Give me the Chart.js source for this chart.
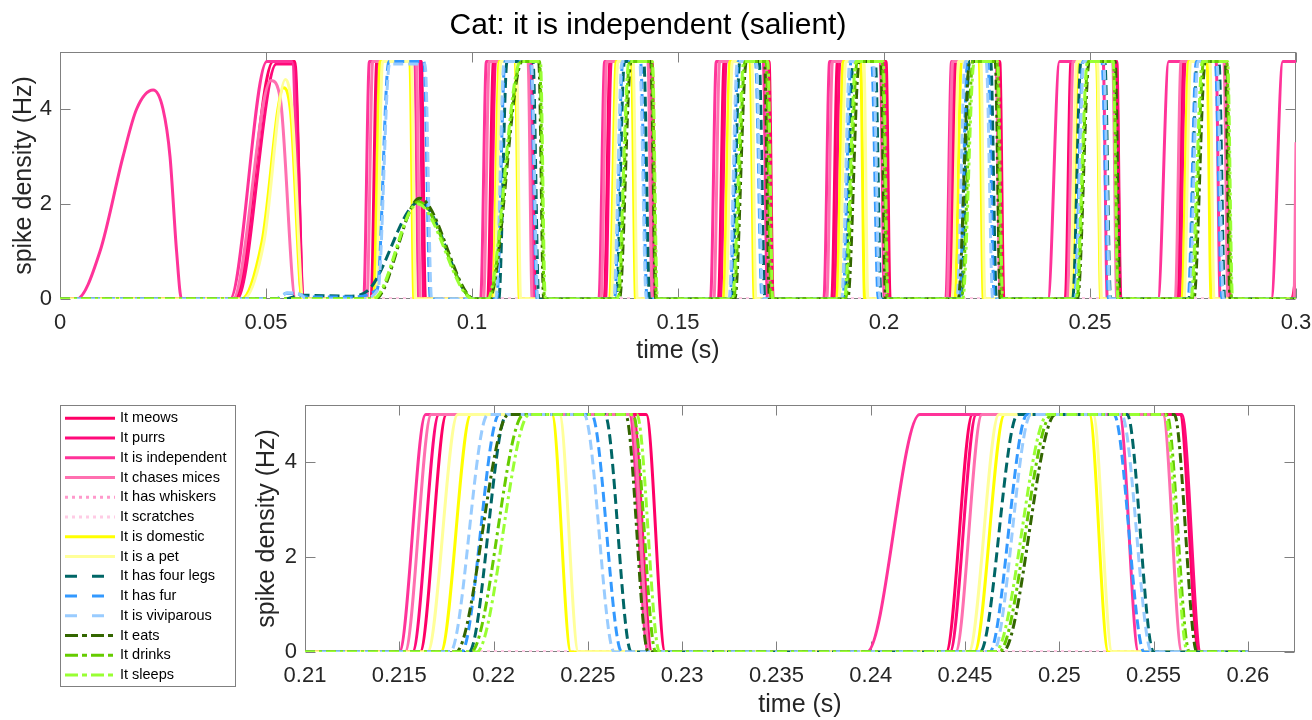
<!DOCTYPE html>
<html><head><meta charset="utf-8">
<script src="https://cdn.jsdelivr.net/npm/chart.js@4.4.1/dist/chart.umd.min.js"></script>
<style>
html,body{margin:0;padding:0;background:#fff;width:1312px;height:720px;overflow:hidden;}
#topChart{position:absolute;left:0;top:0;}
#zoomChart{position:absolute;left:0;top:380px;}
</style></head><body>
<canvas id="topChart" width="1312" height="370"></canvas>
<canvas id="zoomChart" width="1312" height="340"></canvas>
<script>
// ---------- DATA ----------
const chartTitle = 'Cat: it is independent (salient)';
const xTitle = 'time (s)';
const yTitle = 'spike density (Hz)';

const topXTicks = [0, 0.05, 0.1, 0.15, 0.2, 0.25, 0.3];
const topXLabels = ['0', '0.05', '0.1', '0.15', '0.2', '0.25', '0.3'];
const zoomXTicks = [0.21, 0.215, 0.22, 0.225, 0.23, 0.235, 0.24, 0.245, 0.25, 0.255, 0.26];
const zoomXLabels = ['0.21', '0.215', '0.22', '0.225', '0.23', '0.235', '0.24', '0.245', '0.25', '0.255', '0.26'];
const yTicks = [0, 2, 4];
const yLabels = ['0', '2', '4'];

const seriesLabels = ['It meows', 'It purrs', 'It is independent', 'It chases mices', 'It has whiskers',
  'It scratches', 'It is domestic', 'It is a pet', 'It has four legs', 'It has fur', 'It is viviparous',
  'It eats', 'It drinks', 'It sleeps'];

// [time (s), spike density (Hz)]
const itMeows = [
  [0,0],
  [0.0425,0],[0.0517,5],[0.0570,5],[0.0590,0],
  [0.0755,0],[0.0769,5],[0.0877,5],[0.0887,0],
  [0.1038,0],[0.1052,5],[0.1144,5],[0.1154,0],
  [0.1321,0],[0.1335,5],[0.1437,5],[0.1447,0],
  [0.1598,0],[0.1612,5],[0.1721,5],[0.1731,0],
  [0.1873,0],[0.1887,5],[0.2005,5],[0.2015,0],
  [0.2161,0],[0.2175,5],[0.2281,5],[0.2291,0],
  [0.2440,0],[0.2454,5],[0.2564,5],[0.2574,0],
  [0.2713,0],[0.2727,5],[0.2831,5],[0.2841,0],
  [0.2990,0],[0.3000,0.5]
];
const itPurrs = [
  [0,0],
  [0.0430,0],[0.0525,4.95],[0.0568,4.95],[0.0592,0],
  [0.0761,0],[0.0775,5],[0.0873,5],[0.0883,0],
  [0.1043,0],[0.1057,5],[0.1142,5],[0.1152,0],
  [0.1324,0],[0.1338,5],[0.1435,5],[0.1445,0],
  [0.1603,0],[0.1617,5],[0.1717,5],[0.1727,0],
  [0.1879,0],[0.1893,5],[0.2001,5],[0.2011,0],
  [0.2157,0],[0.2171,5],[0.2274,5],[0.2284,0],
  [0.2442,0],[0.2456,5],[0.2565,5],[0.2575,0],
  [0.2717,0],[0.2731,5],[0.2829,5],[0.2839,0],
  [0.3000,0]
];
const itIsIndependent = [
  [0,0],[0.0040,0],[0.0097,1.0],[0.0153,3.0],[0.0186,4.0],[0.0226,4.4],[0.0250,4.0],[0.0267,3.0],[0.0283,1.0],[0.0295,0],
  [0.0413,0],[0.0502,5],[0.0563,5],[0.0587,0],
  [0.0737,0],[0.0751,5],[0.0861,5],[0.0871,0],
  [0.1021,0],[0.1035,5],[0.1140,5],[0.1150,0],
  [0.1308,0],[0.1322,5],[0.1431,5],[0.1441,0],
  [0.1579,0],[0.1593,5],[0.1707,5],[0.1717,0],
  [0.1854,0],[0.1868,5],[0.1991,5],[0.2001,0],
  [0.2150,0],[0.2164,5],[0.2272,5],[0.2282,0],
  [0.2398,0],[0.2426,5],[0.2532,5],[0.2542,0],
  [0.2665,0],[0.2691,5],[0.2806,5],[0.2816,0],
  [0.2940,0],[0.2968,5],[0.3000,5]
];
const itChasesMices = [
  [0,0],
  [0.0420,0],[0.0512,4.6],[0.0535,4.2],[0.0572,0],
  [0.0745,0],[0.0759,5],[0.0865,5],[0.0875,0],
  [0.1028,0],[0.1042,5],[0.1136,5],[0.1146,0],
  [0.1313,0],[0.1327,5],[0.1427,5],[0.1437,0],
  [0.1587,0],[0.1601,5],[0.1713,5],[0.1723,0],
  [0.1861,0],[0.1875,5],[0.1994,5],[0.2004,0],
  [0.2153,0],[0.2167,5],[0.2273,5],[0.2283,0],
  [0.2445,0],[0.2459,5],[0.2555,5],[0.2565,0],
  [0.2707,0],[0.2721,5],[0.2825,5],[0.2835,0],
  [0.2995,0],[0.3000,3.3]
];
const itHasWhiskers = [[0,0],[0.3000,0]];
const itScratches = [[0,0],[0.3000,0]];
const itIsDomestic = [
  [0,0],
  [0.0440,0],[0.0490,1.2],[0.0543,4.45],[0.0560,3.9],[0.0588,0],
  [0.0761,0],[0.0777,5],[0.0849,5],[0.0859,0],
  [0.1050,0],[0.1066,5],[0.1105,5],[0.1115,0],
  [0.1334,0],[0.1350,5],[0.1387,5],[0.1397,0],
  [0.1610,0],[0.1626,5],[0.1675,5],[0.1685,0],
  [0.1885,0],[0.1901,5],[0.1943,5],[0.1953,0],
  [0.2172,0],[0.2188,5],[0.2231,5],[0.2241,0],
  [0.2455,0],[0.2471,5],[0.2516,5],[0.2526,0],
  [0.2723,0],[0.2739,5],[0.2784,5],[0.2794,0],
  [0.3000,0]
];
const itIsAPet = [
  [0,0],
  [0.0445,0],[0.0495,1.2],[0.0547,4.62],[0.0563,4.0],[0.0591,0],
  [0.0767,0],[0.0783,5],[0.0853,5],[0.0863,0],
  [0.1054,0],[0.1070,5],[0.1108,5],[0.1118,0],
  [0.1338,0],[0.1354,5],[0.1391,5],[0.1401,0],
  [0.1616,0],[0.1632,5],[0.1679,5],[0.1689,0],
  [0.1891,0],[0.1907,5],[0.1951,5],[0.1961,0],
  [0.2165,0],[0.2181,5],[0.2235,5],[0.2245,0],
  [0.2452,0],[0.2468,5],[0.2518,5],[0.2528,0],
  [0.2728,0],[0.2744,5],[0.2791,5],[0.2801,0],
  [0.3000,0]
];
const itHasFourLegs = [
  [0,0],
  [0.0545,0],[0.0585,0.08],[0.0700,0.06],[0.0750,0.2],[0.0873,2.05],[0.1005,0],
  [0.1065,0],[0.1085,5],[0.1148,5],[0.1162,0],
  [0.1350,0],[0.1370,5],[0.1417,5],[0.1431,0],
  [0.1630,0],[0.1650,5],[0.1697,5],[0.1711,0],
  [0.1905,0],[0.1925,5],[0.1979,5],[0.1993,0],
  [0.2187,0],[0.2207,5],[0.2259,5],[0.2273,0],
  [0.2458,0],[0.2478,5],[0.2536,5],[0.2550,0],
  [0.2740,0],[0.2760,5],[0.2813,5],[0.2827,0],
  [0.3000,0]
];
const itHasFur = [
  [0,0],
  [0.0525,0],[0.0550,0.12],[0.0580,0.1],[0.0600,0.04],[0.0700,0.04],[0.0770,0.2],[0.0798,5],[0.0883,5],[0.0899,0],
  [0.1060,0],[0.1080,5],[0.1142,5],[0.1158,0],
  [0.1346,0],[0.1366,5],[0.1409,5],[0.1425,0],
  [0.1626,0],[0.1646,5],[0.1688,5],[0.1704,0],
  [0.1900,0],[0.1920,5],[0.1970,5],[0.1986,0],
  [0.2183,0],[0.2203,5],[0.2252,5],[0.2268,0],
  [0.2463,0],[0.2483,5],[0.2529,5],[0.2545,0],
  [0.2738,0],[0.2758,5],[0.2804,5],[0.2820,0],
  [0.3000,0]
];
const itIsViviparous = [
  [0,0],
  [0.0528,0],[0.0552,0.13],[0.0582,0.1],[0.0600,0],
  [0.0730,0],[0.0772,0.2],[0.0800,4.95],[0.0886,4.95],[0.0902,0],
  [0.1058,0],[0.1078,5],[0.1144,5],[0.1160,0],
  [0.1344,0],[0.1364,5],[0.1407,5],[0.1423,0],
  [0.1624,0],[0.1644,5],[0.1690,5],[0.1706,0],
  [0.1897,0],[0.1917,5],[0.1974,5],[0.1990,0],
  [0.2177,0],[0.2197,5],[0.2248,5],[0.2264,0],
  [0.2465,0],[0.2485,5],[0.2533,5],[0.2549,0],
  [0.2742,0],[0.2762,5],[0.2808,5],[0.2824,0],
  [0.3000,0]
];
const itEats = [
  [0,0],
  [0.0765,0],[0.0873,2.12],[0.1007,0],
  [0.1042,0],[0.1122,5],[0.1162,5],[0.1174,0],
  [0.1358,0],[0.1386,5],[0.1434,5],[0.1446,0],
  [0.1638,0],[0.1666,5],[0.1710,5],[0.1722,0],
  [0.1912,0],[0.1940,5],[0.1992,5],[0.2004,0],
  [0.2180,0],[0.2208,5],[0.2270,5],[0.2282,0],
  [0.2470,0],[0.2498,5],[0.2561,5],[0.2573,0],
  [0.2752,0],[0.2780,5],[0.2828,5],[0.2840,0],
  [0.3000,0]
];
const itDrinks = [
  [0,0],
  [0.0762,0],[0.0870,2.05],[0.1005,0],
  [0.1040,0],[0.1120,5],[0.1164,5],[0.1176,0],
  [0.1355,0],[0.1383,5],[0.1436,5],[0.1448,0],
  [0.1635,0],[0.1663,5],[0.1714,5],[0.1726,0],
  [0.1907,0],[0.1935,5],[0.1996,5],[0.2008,0],
  [0.2188,0],[0.2216,5],[0.2274,5],[0.2286,0],
  [0.2468,0],[0.2496,5],[0.2557,5],[0.2569,0],
  [0.2748,0],[0.2776,5],[0.2832,5],[0.2844,0],
  [0.3000,0]
];
const itSleeps = [
  [0,0],
  [0.0760,0],[0.0868,2.0],[0.1003,0],
  [0.1038,0],[0.1118,5],[0.1166,5],[0.1178,0],
  [0.1353,0],[0.1381,5],[0.1438,5],[0.1450,0],
  [0.1632,0],[0.1660,5],[0.1718,5],[0.1730,0],
  [0.1904,0],[0.1932,5],[0.1998,5],[0.2010,0],
  [0.2191,0],[0.2219,5],[0.2276,5],[0.2288,0],
  [0.2466,0],[0.2494,5],[0.2556,5],[0.2568,0],
  [0.2745,0],[0.2773,5],[0.2834,5],[0.2846,0],
  [0.3000,0]
];

const seriesData = [itMeows, itPurrs, itIsIndependent, itChasesMices, itHasWhiskers, itScratches,
  itIsDomestic, itIsAPet, itHasFourLegs, itHasFur, itIsViviparous, itEats, itDrinks, itSleeps];

// ---------- STYLES ----------
const seriesColors = ['#FF0066', '#FF0A7A', '#FF3399', '#FF70B0', '#FF99CC', '#FFCCE5',
  '#FFFF00', '#FFFF99', '#006666', '#3399FF', '#99CCFF', '#336600', '#66CC00', '#99FF33'];
const SOLID = [], DOT = [3, 4], DASH = [10, 5], DASHDOT = [10, 4, 3, 4];
const seriesDash = [SOLID, SOLID, SOLID, SOLID, DOT, DOT, SOLID, SOLID, DASH, DASH, DASH, DASHDOT, DASHDOT, DASHDOT];
const LDASH = [12, 15], LDASHDOT = [13, 4, 5, 4];
const legendDash = [SOLID, SOLID, SOLID, SOLID, DOT, DOT, SOLID, SOLID, LDASH, LDASH, LDASH, LDASHDOT, LDASHDOT, LDASHDOT];

const FONT = "'Liberation Sans', Arial, Helvetica, sans-serif";
const AX = '#262626';
const FRAME = '#808080';

function toPts(arr) { return arr.map(p => ({x: p[0], y: p[1]})); }
function windowPts(arr, a, b) {
  const inner = arr.filter(p => p[0] > a && p[0] < b);
  return [{x: a, y: 0}].concat(toPts(inner), [{x: b, y: 0}]);
}
function makeDatasets(mapper) {
  return seriesData.map((d, i) => ({
    label: seriesLabels[i],
    data: mapper(d),
    borderColor: seriesColors[i],
    backgroundColor: seriesColors[i],
    borderWidth: 3,
    borderDash: seriesDash[i],
    legendDash: legendDash[i],
    pointRadius: 0,
    pointHoverRadius: 0,
    fill: false,
    cubicInterpolationMode: 'monotone',
    order: seriesData.length - 1 - i
  }));
}

const framePlugin = {
  id: 'frameTicks',
  beforeDatasetsDraw(chart) {
    const {ctx, chartArea: a} = chart;
    const x = chart.scales.x, y = chart.scales.y;
    const L = Math.round(a.left) + 0.5, R = Math.round(a.right) - 0.5;
    const T = Math.round(a.top) + 0.5, B = Math.round(a.bottom) - 0.5;
    const tl = 10;
    ctx.save();
    ctx.strokeStyle = FRAME;
    ctx.lineWidth = 1;
    ctx.setLineDash([]);
    ctx.strokeRect(L, T, R - L, B - T);
    ctx.beginPath();
    x.ticks.forEach(t => {
      const px = Math.round(x.getPixelForValue(t.value)) + 0.5;
      ctx.moveTo(px, B); ctx.lineTo(px, B - tl);
      ctx.moveTo(px, T); ctx.lineTo(px, T + tl);
    });
    y.ticks.forEach(t => {
      const py = Math.round(y.getPixelForValue(t.value)) + 0.5;
      ctx.moveTo(L, py); ctx.lineTo(L + tl, py);
      ctx.moveTo(R, py); ctx.lineTo(R - tl, py);
    });
    ctx.stroke();
    ctx.restore();
  }
};

const legendBoxPlugin = {
  id: 'legendBox',
  afterDraw(chart, args, o) {
    const ctx = chart.ctx;
    ctx.save();
    ctx.strokeStyle = FRAME;
    ctx.lineWidth = 1;
    ctx.setLineDash([]);
    ctx.strokeRect(o.x + 0.5, o.y + 0.5, o.w, o.h);
    chart.data.datasets.forEach((ds, i) => {
      const yy = o.firstY + i * o.step;
      ctx.beginPath();
      ctx.setLineDash(ds.legendDash || []);
      ctx.strokeStyle = ds.borderColor;
      ctx.lineWidth = ds.borderWidth;
      ctx.moveTo(o.x + o.lineFrom, yy);
      ctx.lineTo(o.x + o.lineTo, yy);
      ctx.stroke();
      ctx.setLineDash([]);
      ctx.fillStyle = '#000';
      ctx.font = o.fontSize + 'px ' + FONT;
      ctx.textBaseline = 'middle';
      ctx.textAlign = 'left';
      ctx.fillText(ds.label, o.x + o.textX, yy);
    });
    ctx.restore();
  }
};

function xScale(min, max, ticks, labels, height, titlePadBottom) {
  return {
    type: 'linear', min: min, max: max,
    afterBuildTicks: s => { s.ticks = ticks.map(v => ({value: v})); },
    afterFit: s => { s.height = height; s.paddingLeft = 0; s.paddingRight = 0; },
    ticks: {autoSkip: false, maxRotation: 0, minRotation: 0, padding: 11, color: AX,
      font: {family: FONT, size: 22}, callback: (v, i) => labels[i]},
    grid: {display: false, drawTicks: false},
    border: {display: false},
    title: {display: true, text: xTitle, color: AX, font: {family: FONT, size: 25},
      padding: {top: 0, bottom: titlePadBottom}}
  };
}
function yScale(width, titlePadTop) {
  return {
    type: 'linear', min: 0, max: 5.2,
    afterBuildTicks: s => { s.ticks = yTicks.map(v => ({value: v})); },
    afterFit: s => { s.width = width; s.paddingTop = 0; s.paddingBottom = 0; },
    ticks: {padding: 8, color: AX, font: {family: FONT, size: 22}, callback: (v, i) => yLabels[i]},
    grid: {display: false, drawTicks: false},
    border: {display: false},
    title: {display: true, text: yTitle, color: AX, font: {family: FONT, size: 25},
      padding: {top: titlePadTop, bottom: 0}}
  };
}

new Chart(document.getElementById('topChart'), {
  type: 'line',
  data: {datasets: makeDatasets(toPts)},
  options: {
    responsive: false, maintainAspectRatio: false, animation: false, devicePixelRatio: 1,
    events: [],
    layout: {padding: {left: 0, right: 16, top: 0, bottom: 0}},
    plugins: {
      legend: {display: false},
      tooltip: {enabled: false},
      title: {display: true, text: chartTitle, color: '#000',
        font: {family: FONT, size: 30, weight: 'normal'}, padding: {top: 8, bottom: 8}}
    },
    scales: {
      x: xScale(0, 0.3, topXTicks, topXLabels, 71, 4),
      y: yScale(60, 9)
    }
  },
  plugins: [framePlugin]
});

new Chart(document.getElementById('zoomChart'), {
  type: 'line',
  data: {datasets: makeDatasets(d => windowPts(d, 0.21, 0.26))},
  options: {
    responsive: false, maintainAspectRatio: false, animation: false, devicePixelRatio: 1,
    events: [],
    layout: {padding: {left: 240, right: 17, top: 25, bottom: 0}},
    plugins: {
      legend: {display: false},
      tooltip: {enabled: false},
      title: {display: false},
      legendBox: {x: 60, y: 25, w: 175, h: 281, firstY: 38.3, step: 19.75,
        lineFrom: 5, lineTo: 55, textX: 60, fontSize: 14.5}
    },
    scales: {
      x: xScale(0.21, 0.2625, zoomXTicks, zoomXLabels, 68, 0),
      y: yScale(65, 12.5)
    }
  },
  plugins: [framePlugin, legendBoxPlugin]
});
</script>
</body></html>
